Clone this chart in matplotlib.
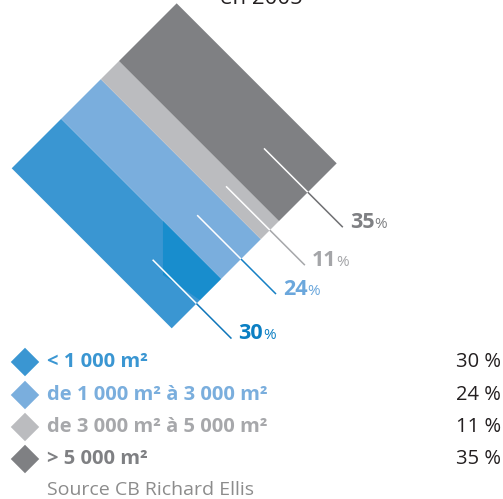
import numpy as np
import matplotlib
matplotlib.use("Agg")
import matplotlib.pyplot as plt
from matplotlib.patches import Polygon
from matplotlib.offsetbox import TextArea, HPacker, AnnotationBbox

plt.rcParams['font.family'] = ['Open Sans', 'DejaVu Sans']

# parts of the market by surface, 2005
categories = ["< 1 000 m²", "de 1 000 m² à 3 000 m²", "de 3 000 m² à 5 000 m²", "> 5 000 m²"]
shares = [30, 24, 11, 35]
title = "en 2005"
source = "Source CB Richard Ellis"

fill_colors = ["#3A96D2", "#7AAEDD", "#BBBCBF", "#7F8083"]
text_colors = ["#3A96D2", "#7AAEDD", "#A7A8AB", "#7F8083"]
label_colors = ["#0B7FC3", "#6BA7DC", "#A4A5A8", "#7F8083"]
leader_colors = ["#0F76BA", "#1680C4", "#A6A7AA", "#6F7073"]

W, H = 503, 499
fig = plt.figure(figsize=(W / 100, H / 100), dpi=100)
ax = fig.add_axes([0, 0, 1, 1])
ax.set_xlim(0, W)
ax.set_ylim(H, 0)
ax.axis("off")

# tilted block: origin corner, along (SE) and across (NE) directions
origin = np.array([11.7, 168.3])
along = np.array([1.0, 1.0]) / np.sqrt(2)
across = np.array([1.0, -1.0]) / np.sqrt(2)
length = 226.3
width = 233.3
inner = 62.0   # white part of the leader, inside the block
outer = 49.5   # coloured part, outside the block

fracs = np.array(shares) / sum(shares)
cum = np.concatenate([[0], np.cumsum(fracs)])


def block_point(u, v):
    # u: fraction across the whole block, v: fraction along it
    return origin + across * width * u + along * length * v


for i, share in enumerate(shares):
    corners = [block_point(cum[i], 0), block_point(cum[i + 1], 0),
               block_point(cum[i + 1], 1), block_point(cum[i], 1)]
    ax.add_patch(Polygon(corners, closed=True, facecolor=fill_colors[i],
                         edgecolor="none"))

    if i == 0:
        # darker shade in the first band (photo backdrop)
        c0, c1 = cum[0], cum[1]
        shade = [block_point(c0 + (c1 - c0) * 1.0, 0.636),
                 block_point(c1, 1.0),
                 block_point(c0 + (c1 - c0) * 0.57, 1.0),
                 block_point(c0 + (c1 - c0) * 0.45, 0.806)]
        ax.add_patch(Polygon(shade, closed=True, facecolor="#0288CB",
                             edgecolor="none", alpha=0.6))

    mid = block_point((cum[i] + cum[i + 1]) / 2, 1)
    start = mid - along * inner
    end = mid + along * outer
    ax.plot([start[0], mid[0]], [start[1], mid[1]], color="white", lw=1.1,
            solid_capstyle="butt")
    ax.plot([mid[0], end[0]], [mid[1], end[1]], color=leader_colors[i], lw=1.1,
            solid_capstyle="butt")

    num = TextArea(f"{share}", textprops=dict(color=label_colors[i], fontsize=15.5,
                                              fontweight="bold"))
    pct = TextArea("%", textprops=dict(color=label_colors[i], fontsize=11))
    box = HPacker(children=[num, pct], align="baseline", pad=0, sep=0)
    ab = AnnotationBbox(box, (end[0] + 7, end[1] - 5), xycoords="data",
                        box_alignment=(0, 0.5), frameon=False, pad=0)
    ax.add_artist(ab)

ax.text(261, 4, title, ha="center", va="baseline", fontsize=16, color="#231F20")

# legend
leg_y = [362, 395, 427, 459]
for i, cat in enumerate(categories):
    ax.scatter([25], [leg_y[i]], marker="D", s=14.5 ** 2, color=fill_colors[i],
               edgecolors="none")
    ax.text(47, leg_y[i], cat, ha="left", va="center", fontsize=14.5,
            fontweight="bold", color=text_colors[i])
    ax.text(501, leg_y[i], f"{shares[i]} %", ha="right", va="center",
            fontsize=14.5, color="#231F20")

ax.text(47, 490, source, ha="left", va="center", fontsize=14, color="#8C8C8C")

fig.savefig("out.png", dpi=100)
